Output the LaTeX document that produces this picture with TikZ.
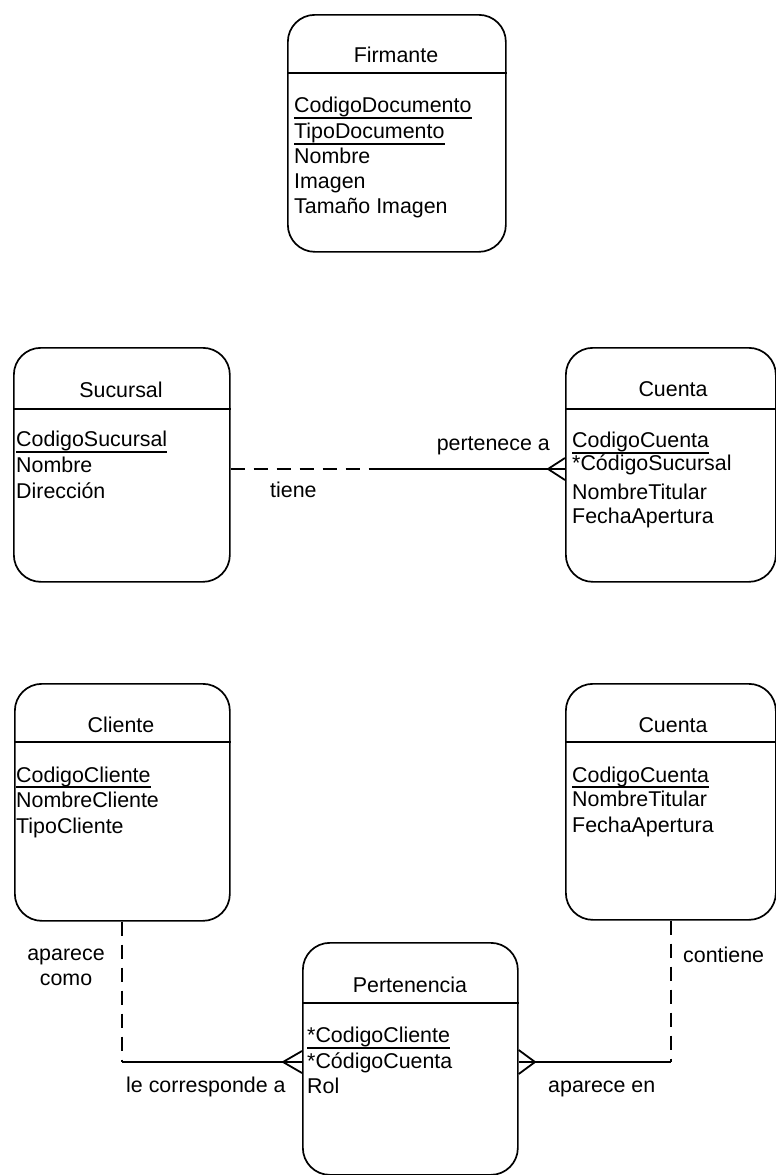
\documentclass[tikz,border=0pt]{standalone}
\usepackage{fontspec}
\setmainfont{Liberation Sans}
\usetikzlibrary{calc}
\tikzset{
  entity/.style={draw, line width=1.7pt, rounded corners=27pt, inner sep=0pt, anchor=north west},
  sepline/.style={line width=1.7pt},
  ttl/.style={font=\fontsize{21.4}{25}\selectfont, inner sep=0pt, anchor=base},
  attr/.style={font=\fontsize{21.4}{25}\selectfont, inner sep=0pt, anchor=base west},
  uline/.style={line width=1.8pt},
  rel/.style={line width=1.8pt},
  optrel/.style={line width=1.8pt, dash pattern=on 14pt off 9pt},
  lbl/.style={font=\fontsize{21.4}{25}\selectfont, inner sep=0pt}
}
\begin{document}
\begin{tikzpicture}[x=1pt,y=-1pt]
\useasboundingbox (0,0) rectangle (776,1175);

% ---------- Firmante ----------
\node[entity, minimum width=218pt, minimum height=237pt] (firm) at (287,14) {};
\draw[sepline] (firm.west |- 0,73) -- (firm.east |- 0,73);
\node[ttl] (firm-t) at (396,62) {Firmante};
\node[attr] (firm-a1) at (294,112) {CodigoDocumento};
\node[attr] (firm-a2) at (294,138) {TipoDocumento};
\node[attr] (firm-a3) at (294,163) {Nombre};
\node[attr] (firm-a4) at (294,188) {Imagen};
\node[attr] (firm-a5) at (294,213) {Tamaño Imagen};
\draw[uline] ([yshift=-6pt]firm-a1.base west) -- ([yshift=-6pt]firm-a1.base east);
\draw[uline] ([yshift=-6pt]firm-a2.base west) -- ([yshift=-6pt]firm-a2.base east);

% ---------- Sucursal ----------
\node[entity, minimum width=216pt, minimum height=234pt] (suc) at (13,347) {};
\draw[sepline] (suc.west |- 0,409) -- (suc.east |- 0,409);
\node[ttl] (suc-t) at (121,397) {Sucursal};
\node[attr] (suc-a1) at (16,446) {CodigoSucursal};
\node[attr] (suc-a2) at (16,472) {Nombre};
\node[attr] (suc-a3) at (16,498) {Dirección};
\draw[uline] ([yshift=-6pt]suc-a1.base west) -- ([yshift=-6pt]suc-a1.base east);

% ---------- Cuenta (top) ----------
\node[entity, minimum width=210pt, minimum height=234pt] (cta1) at (565,347) {};
\draw[sepline] (cta1.west |- 0,409) -- (cta1.east |- 0,409);
\node[ttl] (cta1-t) at (673,396) {Cuenta};
\node[attr] (cta1-a1) at (572,447) {CodigoCuenta};
\node[attr] (cta1-a2) at (572,470) {*CódigoSucursal};
\node[attr] (cta1-a3) at (572,499) {NombreTitular};
\node[attr] (cta1-a4) at (572,523) {FechaApertura};
\draw[uline] ([yshift=-6pt]cta1-a1.base west) -- ([yshift=-6pt]cta1-a1.base east);

% ---------- Cliente ----------
\node[entity, minimum width=215pt, minimum height=237pt] (cli) at (14,683) {};
\draw[sepline] (cli.west |- 0,742) -- (cli.east |- 0,742);
\node[ttl] (cli-t) at (121,732) {Cliente};
\node[attr] (cli-a1) at (16,782) {CodigoCliente};
\node[attr] (cli-a2) at (16,807) {NombreCliente};
\node[attr] (cli-a3) at (16,833) {TipoCliente};
\draw[uline] ([yshift=-5pt]cli-a1.base west) -- ([yshift=-5pt]cli-a1.base east);

% ---------- Cuenta (bottom) ----------
\node[entity, minimum width=210pt, minimum height=236pt] (cta2) at (565,683) {};
\draw[sepline] (cta2.west |- 0,742) -- (cta2.east |- 0,742);
\node[ttl] (cta2-t) at (673,732) {Cuenta};
\node[attr] (cta2-a1) at (572,782) {CodigoCuenta};
\node[attr] (cta2-a2) at (572,806) {NombreTitular};
\node[attr] (cta2-a3) at (572,832) {FechaApertura};
\draw[uline] ([yshift=-5pt]cta2-a1.base west) -- ([yshift=-5pt]cta2-a1.base east);

% ---------- Pertenencia ----------
\node[entity, minimum width=215pt, minimum height=232pt] (per) at (302,942) {};
\draw[sepline] (per.west |- 0,1003) -- (per.east |- 0,1003);
\node[ttl] (per-t) at (410,992) {Pertenencia};
\node[attr] (per-a1) at (307,1042) {*CodigoCliente};
\node[attr] (per-a2) at (307,1068) {*CódigoCuenta};
\node[attr] (per-a3) at (307,1093) {Rol};
\draw[uline] ([yshift=-6pt]per-a1.base west) -- ([yshift=-6pt]per-a1.base east);

% ---------- Sucursal -- Cuenta ----------
\coordinate (m1) at (377,469);
\coordinate (f1) at (548,469);
\draw[optrel] (suc.east |- m1) -- (m1);
\draw[rel] (m1) -- (cta1.west |- m1);
\draw[rel] (cta1.west |- 0,458) -- (f1) -- (cta1.west |- 0,480);
\node[lbl, anchor=base east] (l-pert) at (550,450) {pertenece a};
\node[lbl, anchor=base west] (l-tiene) at (270,497) {tiene};

% ---------- Cliente -- Pertenencia ----------
\coordinate (c2) at (cli.south |- 0,1062);
\coordinate (f2) at (283,1062);
\draw[optrel] (cli.south) -- (c2);
\draw[rel] (c2) -- (per.west |- c2);
\draw[rel] (per.west |- 0,1051) -- (f2) -- (per.west |- 0,1073);
\node[lbl, anchor=base] (l-apc1) at (66,960) {aparece};
\node[lbl, anchor=base] (l-apc2) at (66,985) {como};
\node[lbl, anchor=base west] (l-lecor) at (126,1092) {le corresponde a};

% ---------- Cuenta -- Pertenencia ----------
\coordinate (c3) at (cta2.south |- 0,1062);
\coordinate (f3) at (535,1062);
\draw[optrel] (cta2.south) -- (c3);
\draw[rel] (c3) -- (per.east |- c3);
\draw[rel] (per.east |- 0,1050) -- (f3) -- (per.east |- 0,1074);
\node[lbl, anchor=base west] (l-cont) at (683,962) {contiene};
\node[lbl, anchor=base west] (l-apen) at (548,1092) {aparece en};
\end{tikzpicture}
\end{document}
